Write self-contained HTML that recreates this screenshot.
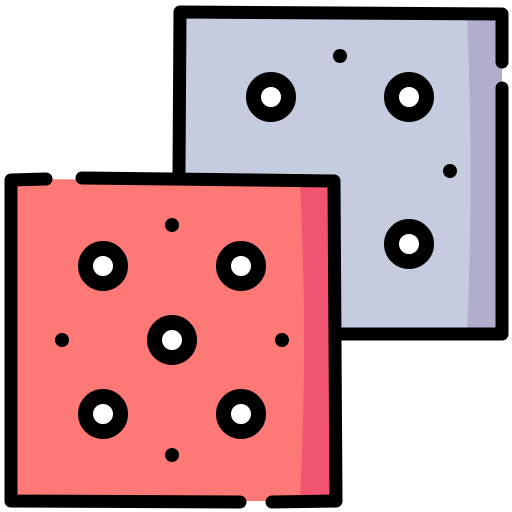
<!DOCTYPE html>
<html><head><meta charset="utf-8"><style>html,body{margin:0;padding:0;background:#fff}svg{display:block}</style></head>
<body>
<svg width="512" height="512" viewBox="0 0 512 512">
<g>
<path d="M180 12 L502 14 L502 334 L180 334 Z" fill="#c6cce0"/>
<path d="M467 14 L502 14 L502 334 L467 334 Q474 180 467 14 Z" fill="#b1aecd"/>
<path d="M502 62 L502 14 L180 12 L178 334 L502 334 L502 88" fill="none" stroke="#000" stroke-width="13" stroke-linejoin="round" stroke-linecap="round"/>
<circle cx="340" cy="56" r="7" fill="#000"/>
<circle cx="450" cy="171" r="7" fill="#000"/>
<circle cx="271" cy="97" r="17.5" fill="#fff" stroke="#000" stroke-width="15"/>
<circle cx="409" cy="97" r="17.5" fill="#fff" stroke="#000" stroke-width="15"/>
<circle cx="409" cy="244" r="17.5" fill="#fff" stroke="#000" stroke-width="15"/>
</g>
<g>
<path d="M11 179 L336 181 L336 501 L11 501 Z" fill="#fe7876"/>
<path d="M300 181 L336 181 L336 501 L300 501 Q308 340 300 181 Z" fill="#f1546f"/>
<path d="M46 179 L11 180 L11 501 L240 502" fill="none" stroke="#000" stroke-width="13" stroke-linejoin="round" stroke-linecap="round"/>
<path d="M82 178 L334 181 L336 501 L272 502" fill="none" stroke="#000" stroke-width="13" stroke-linejoin="round" stroke-linecap="round"/>
<circle cx="172" cy="225" r="7" fill="#000"/>
<circle cx="62" cy="340" r="7" fill="#000"/>
<circle cx="282" cy="340" r="7" fill="#000"/>
<circle cx="172" cy="455" r="7" fill="#000"/>
<circle cx="103" cy="266" r="17.5" fill="#fff" stroke="#000" stroke-width="15"/>
<circle cx="241" cy="266" r="17.5" fill="#fff" stroke="#000" stroke-width="15"/>
<circle cx="172" cy="340" r="17.5" fill="#fff" stroke="#000" stroke-width="15"/>
<circle cx="103" cy="414" r="17.5" fill="#fff" stroke="#000" stroke-width="15"/>
<circle cx="241" cy="414" r="17.5" fill="#fff" stroke="#000" stroke-width="15"/>
</g>
</svg>
</body></html>
